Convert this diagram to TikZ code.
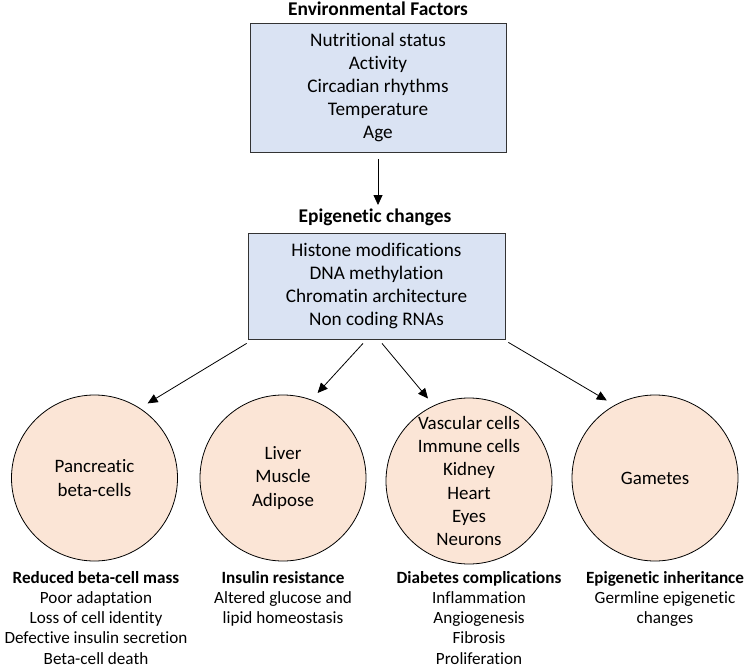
\documentclass[tikz,border=0pt]{standalone}
\usepackage{fontspec}
\setmainfont{Carlito}[Ligatures=NoCommon]
\usetikzlibrary{arrows.meta}
\definecolor{boxblue}{HTML}{DAE3F3}
\definecolor{cellpink}{HTML}{FBE5D6}

\begin{document}
\begin{tikzpicture}[x=1bp,y=1bp,>={Triangle[length=10bp,width=9bp]},
    title/.style={font=\fontsize{19.5}{23.3}\selectfont\bfseries},
    factors/.style={draw=black!80,fill=boxblue,line width=0.8bp,align=center,
        font=\fontsize{19.3}{23.3}\selectfont},
    tissue/.style={circle,draw,fill=cellpink,line width=0.8bp,minimum size=166bp,
        inner sep=0pt,align=center,font=\fontsize{19}{23.3}\selectfont},
    outcome/.style={anchor=north,inner sep=0pt,align=center,
        font=\fontsize{17.2}{20.3}\selectfont},
    link/.style={->,line width=0.8bp}]
\useasboundingbox (0,0) rectangle (750,-668);

% environment and epigenetic layer
\node[title] (envtitle) at (378,-9) {Environmental Factors};
\node[factors,minimum width=256bp,minimum height=129bp] (env) at (378,-87.5)
    {Nutritional status\\Activity\\Circadian rhythms\\Temperature\\Age};
\node[title] (epititle) at (375,-217) {Epigenetic changes};
\node[factors,minimum width=257bp,minimum height=106bp] (epi) at (376.5,-286)
    {Histone modifications\\DNA methylation\\Chromatin architecture\\Non coding RNAs};
\draw[link,shorten <=7bp] (env.south) -- (env.south |- epititle.north);

% target tissues
\node[tissue] (pancreas) at (94.5,-478) {Pancreatic\\beta-cells};
\node[tissue] (insulin) at (283,-478) {Liver\\Muscle\\Adipose};
\node[tissue] (organs) at (469,-481) {Vascular cells\\Immune cells\\Kidney\\Heart\\Eyes\\Neurons};
\node[tissue] (gametes) at (655,-478) {Gametes};

\draw[link,shorten >=9bp] ([shift={(-1,-4)}]epi.south west) -- (pancreas.57);
\draw[link,shorten >=9bp] ([shift={(-13.5,-4)}]epi.south) -- (insulin.70);
\draw[link,shorten >=9bp] ([shift={(5.5,-4)}]epi.south) -- (organs.115);
\draw[link,shorten >=9bp] ([shift={(3,-3)}]epi.south east) -- (gametes.119);

% outcomes
\node[outcome] (betaloss) at (96,-571) {\textbf{Reduced beta-cell mass}\\Poor adaptation\\
    Loss of cell identity\\Defective insulin secretion\\Beta-cell death};
\node[outcome] (resist) at (283,-571) {\textbf{Insulin resistance}\\Altered glucose and\\lipid homeostasis};
\node[outcome] (complic) at (479,-571) {\textbf{Diabetes complications}\\Inflammation\\
    Angiogenesis\\Fibrosis\\Proliferation};
\node[outcome] (inherit) at (665,-571) {\textbf{Epigenetic inheritance}\\Germline epigenetic\\changes};

\end{tikzpicture}
\end{document}
